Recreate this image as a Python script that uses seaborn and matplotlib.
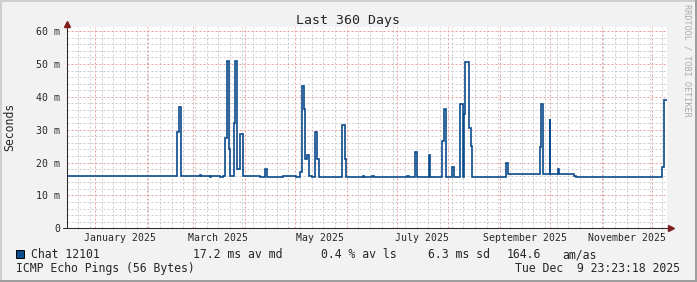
import numpy as np
import pandas as pd
import matplotlib
matplotlib.use("Agg")
import matplotlib.pyplot as plt
import matplotlib.dates as mdates
import matplotlib.transforms as mtransforms
from matplotlib.ticker import MultipleLocator, FuncFormatter
from matplotlib.patches import Rectangle
import seaborn as sns

# ---------------- data ----------------
title = "Last 360 Days"
y_label = "Seconds"
series_name = "Chat 12101"
stats_labels = ["17.2 ms av md", "0.4 % av ls", "6.3 ms sd", "164.6", "am/as"]
probe_text = "ICMP Echo Pings (56 Bytes)"
timestamp_text = "Tue Dec  9 23:23:18 2025"
watermark = "RRDTOOL / TOBI OETIKER"

range_start = "2024-12-14 23:23:18"
range_end = "2025-12-09 23:23:18"

change_times = [
    "2024-12-14 23:23", "2025-02-19 08:00", "2025-02-20 08:00", "2025-02-21 09:00",
    "2025-03-04 18:00", "2025-03-05 09:00", "2025-03-10 18:00", "2025-03-11 09:00",
    "2025-03-16 23:00", "2025-03-18 22:00", "2025-03-19 23:00", "2025-03-21 01:00",
    "2025-03-22 13:00", "2025-03-23 06:00", "2025-03-25 13:00", "2025-03-26 03:00",
    "2025-03-27 08:00", "2025-03-28 16:00", "2025-03-29 03:00", "2025-03-30 11:00",
    "2025-04-10 03:00", "2025-04-12 16:00", "2025-04-14 08:00", "2025-04-23 22:00",
    "2025-05-01 09:00", "2025-05-03 23:00", "2025-05-05 08:00", "2025-05-06 13:00",
    "2025-05-07 03:00", "2025-05-08 08:00", "2025-05-09 13:00", "2025-05-11 04:00",
    "2025-05-12 23:00", "2025-05-14 08:00", "2025-05-15 13:00", "2025-05-29 08:00",
    "2025-05-30 18:00", "2025-05-31 09:00", "2025-06-10 14:00", "2025-06-11 13:00",
    "2025-06-16 08:00", "2025-06-17 13:00", "2025-07-07 08:00", "2025-07-08 13:00",
    "2025-07-11 23:00", "2025-07-13 08:00", "2025-07-20 13:00", "2025-07-21 06:00",
    "2025-07-28 08:00", "2025-07-29 13:00", "2025-07-30 09:00", "2025-08-03 08:00",
    "2025-08-04 13:00", "2025-08-08 06:00", "2025-08-09 11:00", "2025-08-10 13:00",
    "2025-08-11 03:00", "2025-08-13 13:00", "2025-08-14 09:00", "2025-08-15 08:00",
    "2025-09-04 09:00", "2025-09-05 14:00", "2025-09-24 18:00", "2025-09-25 13:00",
    "2025-09-26 14:00", "2025-09-30 16:00", "2025-10-01 06:00", "2025-10-05 14:00",
    "2025-10-06 13:00", "2025-10-15 13:00", "2025-10-16 09:00", "2025-12-07 08:00",
    "2025-12-08 13:00", "2025-12-09 23:23",
]
median_ms = [
    15.8, 29.2, 36.8, 15.8,
    16.1, 15.8, 15.5, 15.8,
    15.5, 15.8, 27.4, 50.8,
    24.0, 15.8, 32.0, 50.8,
    18.0, 27.6, 28.6, 15.8,
    15.5, 18.0, 15.5, 15.9,
    15.5, 17.2, 43.4, 36.3,
    21.0, 22.2, 15.8, 15.5,
    29.2, 21.2, 15.5, 31.3,
    21.2, 15.5, 15.9, 15.5,
    15.9, 15.5, 15.9, 15.5,
    23.2, 15.5, 22.3, 15.5,
    26.5, 36.3, 15.5, 18.6,
    15.5, 37.8, 15.5, 34.7,
    50.5, 30.4, 25.0, 15.6,
    19.8, 16.5, 24.7, 37.7,
    16.5, 33.3, 16.5, 18.2,
    16.5, 16.0, 15.6, 18.6,
    39.0, 39.0,
]

month_labels = ["2025-01", "2025-03", "2025-05", "2025-07", "2025-09", "2025-11"]
y_ticks_ms = [0, 10, 20, 30, 40, 50, 60]

# ---------------- style ----------------
sns.set_style("white")
plt.rcParams["font.family"] = ["DejaVu Sans Mono"]

W, H = 697, 282
BACK = "#F2F2F2"
LINE_COL = "#0B4C8C"
AXIS_COL = "#2a2a2a"
ARROW_COL = "#801F1F"
MINOR_GRID = "#CCCCCC"
MAJOR_GRID = "#EA9F9F"


def fx(px):
    return px / W


def fy(py):
    return 1 - py / H


fig = plt.figure(figsize=(W / 100, H / 100), dpi=100, facecolor=BACK)

ax_left, ax_bottom_px, ax_top_px, ax_w = 66.7, 228.3, 27.0, 600.0
ax_h = ax_bottom_px - ax_top_px
ax = fig.add_axes([fx(ax_left), fy(ax_bottom_px), ax_w / W, ax_h / H])
ax.set_facecolor("white")

df = pd.DataFrame({"time": pd.to_datetime(change_times), "ms": median_ms})
sns.lineplot(data=df, x="time", y="ms", ax=ax, color=LINE_COL, linewidth=1.2,
             drawstyle="steps-post", estimator=None, solid_joinstyle="miter",
             legend=False)

ax.set_xlim(pd.Timestamp(range_start), pd.Timestamp(range_end))
ymax = 60 * ax_h / (6 * 32.85)
ax.set_ylim(0, ymax)
ax.set_xlabel("")
ax.set_ylabel("")
for s in ax.spines.values():
    s.set_visible(False)

ax.xaxis.set_major_locator(mdates.MonthLocator())
ax.xaxis.set_minor_locator(mdates.WeekdayLocator(byweekday=mdates.SU))
ax.yaxis.set_major_locator(MultipleLocator(10))
ax.yaxis.set_minor_locator(MultipleLocator(2))
ax.set_yticks(y_ticks_ms)
ax.yaxis.set_major_formatter(FuncFormatter(lambda v, p: "0" if v == 0 else f"{v:.0f} m"))
ax.tick_params(axis="x", which="both", labelbottom=False, direction="out",
               length=1.5, width=0.6, color="#666666")
ax.tick_params(axis="y", which="major", labelsize=7.1, direction="out",
               length=1.5, width=0.6, color="#666666", pad=3.4)
ax.tick_params(axis="y", which="minor", direction="out", length=1.0, width=0.6,
               color="#888888")

ax.set_axisbelow(True)
ax.grid(which="minor", color=MINOR_GRID, linestyle=(0, (2, 2)), linewidth=0.72)
ax.grid(which="major", color=MAJOR_GRID, linestyle=(0, (2, 2)), linewidth=0.72)

# axis lines with arrows
ax.plot([0, 0], [0, 1 + 3.0 / ax_h], transform=ax.transAxes, clip_on=False,
        color=AXIS_COL, lw=0.75, zorder=5)
ax.plot([-3.5 / ax_w, 1 + 3.0 / ax_w], [0, 0], transform=ax.transAxes,
        clip_on=False, color=AXIS_COL, lw=0.75, zorder=5)
ax.plot([0], [1 + 3.3 / ax_h], marker="^", markersize=4, color=ARROW_COL,
        transform=ax.transAxes, clip_on=False, zorder=6)
ax.plot([1 + 4.0 / ax_w], [0], marker=">", markersize=4, color=ARROW_COL,
        transform=ax.transAxes, clip_on=False, zorder=6)

# month labels centred mid-month
blend = mtransforms.blended_transform_factory(ax.transData, ax.transAxes)
for m in month_labels:
    d = pd.Timestamp(m + "-01") + pd.Timedelta(days=15)
    ax.text(mdates.date2num(d), -(241.0 - ax_bottom_px) / ax_h,
            pd.Timestamp(m + "-01").strftime("%B %Y"), transform=blend,
            ha="center", va="baseline", fontsize=7.1)

# title / labels
fig.text(fx(348.5), fy(24.0), title, ha="center", va="baseline", fontsize=9.5)
fig.text(fx(10), fy(127.3), y_label, rotation=90, ha="center", va="center",
         fontsize=8.3)
fig.text(fx(687.5), fy(4.5), watermark, rotation=270, ha="center", va="top",
         fontsize=6.1, color="#ABABAB")

# legend row
fig.add_artist(Rectangle((fx(16), fy(258.3)), 8 / W, 8 / H, transform=fig.transFigure,
                         facecolor=LINE_COL, edgecolor="black", linewidth=0.7))
fig.text(fx(30.7), fy(258.3), series_name, ha="left", va="baseline", fontsize=8.3)
for xp, s in zip([193.3, 320.7, 428.3, 506.7, 562.7], stats_labels):
    fig.text(fx(xp), fy(258.3), s, ha="left", va="baseline", fontsize=8.3)
fig.text(fx(16), fy(271.8), probe_text, ha="left", va="baseline", fontsize=8.3)
fig.text(fx(680), fy(271.8), timestamp_text, ha="right", va="baseline", fontsize=8.3)

# frame shading
fig.add_artist(Rectangle((0, fy(2)), 1, 2 / H, transform=fig.transFigure,
                         facecolor="#CFCFCF", edgecolor="none"))
fig.add_artist(Rectangle((0, 0), 2 / W, 1, transform=fig.transFigure,
                         facecolor="#CFCFCF", edgecolor="none"))
fig.add_artist(Rectangle((fx(695), 0), 2 / W, 1, transform=fig.transFigure,
                         facecolor="#9E9E9E", edgecolor="none"))
fig.add_artist(Rectangle((0, 0), 1, 2 / H, transform=fig.transFigure,
                         facecolor="#9E9E9E", edgecolor="none"))

fig.savefig("out.png", dpi=100, facecolor=BACK)
